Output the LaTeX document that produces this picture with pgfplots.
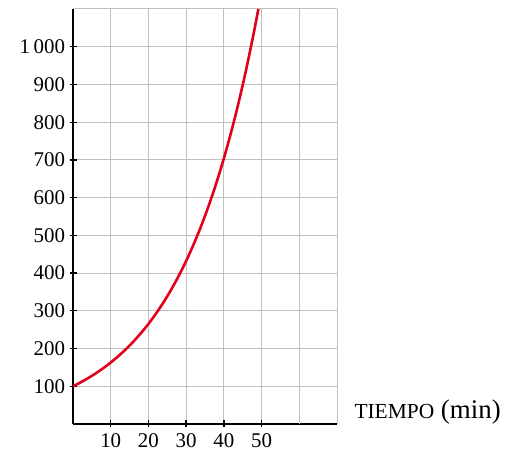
\documentclass[border=0pt]{standalone}
\usepackage{fontspec}
\setmainfont{Liberation Serif}
\usepackage{pgfplots}
\pgfplotsset{compat=1.18}
\definecolor{curvered}{RGB}{226,0,26}
\definecolor{gridgray}{RGB}{192,192,192}
\begin{document}
\begin{tikzpicture}[x=1bp,y=1bp]
\path (0,0) rectangle (510,456);
\begin{axis}[
  at={(73bp,32bp)}, anchor=origin,
  scale only axis, width=264bp, height=415bp,
  xmin=0, xmax=70, ymin=0, ymax=1100,
  axis x line=bottom, axis y line=left,
  axis line style={line width=1.8bp, -},
  xtick={10,20,30,40,50},
  ytick={100,200,...,1000},
  extra x ticks={60,70}, extra x tick labels={},
  extra y ticks={1100}, extra y tick labels={},
  extra tick style={major tick length=0pt, grid=major},
  grid=major,
  major grid style={gridgray, line width=1bp},
  tick align=center, major tick length=7bp,
  tick style={black, line width=1.3bp},
  /pgf/number format/assume math mode=true,
  /pgf/number format/1000 sep={\,},
  ticklabel style={font=\fontsize{21}{23}\selectfont},
  xticklabel style={yshift=-3bp},
  yticklabel style={xshift=-1bp},
  xlabel={{\fontsize{21.5}{23}\selectfont TIEMPO} (min)},
  xlabel style={at={(rel axis cs:1,0)}, anchor=west, xshift=14bp, yshift=12bp, font=\fontsize{27}{29}\selectfont},
  clip=true,
]
\addplot[curvered, line width=2.6bp, smooth] coordinates {
(0,100) (2,110.25) (4,121.55) (6,134.01) (8,147.75) (10,162.89)
(12,179.59) (14,197.99) (16,218.29) (18,240.66) (20,265.33)
(22,292.53) (24,322.51) (26,355.57) (28,392.01) (30,432.19)
(32,476.49) (34,525.33) (36,579.18) (38,638.55) (40,703.99)
(42,776.16) (44,855.72) (46,943.43) (48,1040.13) (49.15,1100)
};
\end{axis}
\end{tikzpicture}
\end{document}
